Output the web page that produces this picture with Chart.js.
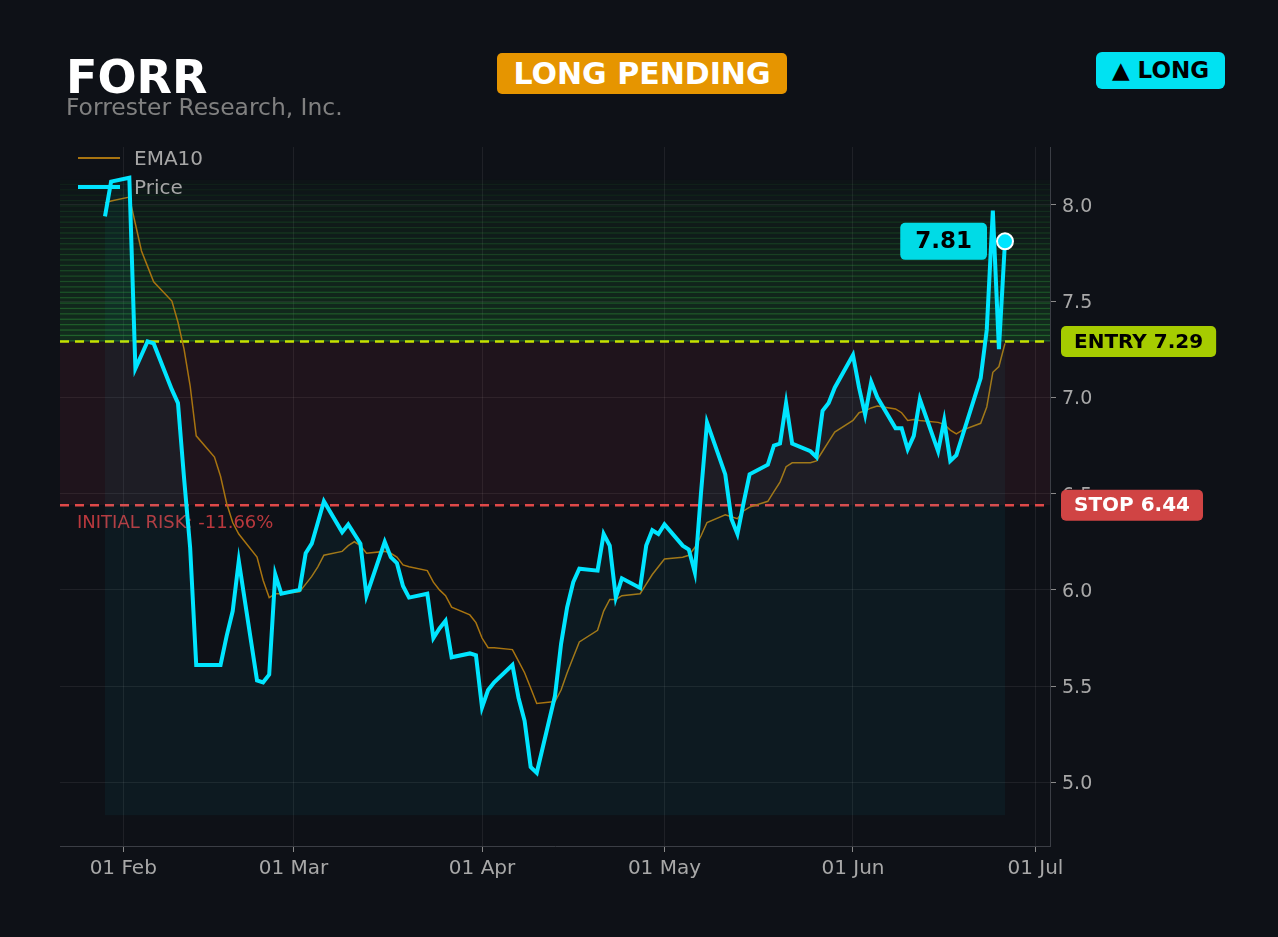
<!DOCTYPE html>
<html>
<head>
<meta charset="utf-8">
<title>FORR</title>
<script src="https://cdn.jsdelivr.net/npm/chart.js@4.4.1/dist/chart.umd.min.js"></script>
<style>
  html, body { margin: 0; padding: 0; background: #0e1117; }
  body { width: 1278px; height: 937px; position: relative; overflow: hidden; font-family: "DejaVu Sans", sans-serif; }
  #chart { position: absolute; left: 0; top: 0; }
  .abs { position: absolute; line-height: 1; white-space: nowrap; }
  #ticker { left: 66px; top: 54px; font-size: 46px; font-weight: bold; color: #ffffff; }
  #company { left: 66px; top: 96px; font-size: 23.4px; color: #808080; }
  .badge { position: absolute; display: flex; align-items: center; justify-content: center; font-weight: bold; border-radius: 5px; line-height: 1; white-space: nowrap; }
  #status { left: 497px; top: 53px; width: 290px; height: 41px; background: #e69500; color: #ffffff; font-size: 30px; }
  #side { left: 1096px; top: 52px; width: 129px; height: 37px; background: #00e2f2; color: #000000; font-size: 23px; border-radius: 6px; }
  .lg { position: absolute; left: 78px; height: 24px; display: flex; align-items: center; font-size: 20px; color: #a6a6a6; }
  .lg span.sw { display: inline-block; width: 42px; margin-right: 14px; }
</style>
</head>
<body>
<canvas id="chart" width="1278" height="937"></canvas>
<div class="abs" id="ticker">FORR</div>
<div class="abs" id="company">Forrester Research, Inc.</div>
<div class="badge" id="status">LONG PENDING</div>
<div class="badge" id="side">▲ LONG</div>
<div class="lg" style="top:146px"><span class="sw" style="height:2px;background:#a87410"></span>EMA10</div>
<div class="lg" style="top:175px"><span class="sw" style="height:4px;background:#00e5ff"></span>Price</div>

<script>
// trading days shown on the chart
const dates = [
  '2026-01-29','2026-01-30',
  '2026-02-02','2026-02-03','2026-02-04','2026-02-05','2026-02-06',
  '2026-02-09','2026-02-10','2026-02-11','2026-02-12','2026-02-13',
  '2026-02-16','2026-02-17','2026-02-18','2026-02-19','2026-02-20',
  '2026-02-23','2026-02-24','2026-02-25','2026-02-26','2026-02-27',
  '2026-03-02','2026-03-03','2026-03-04','2026-03-05','2026-03-06',
  '2026-03-09','2026-03-10','2026-03-11','2026-03-12','2026-03-13',
  '2026-03-16','2026-03-17','2026-03-18','2026-03-19','2026-03-20',
  '2026-03-23','2026-03-24','2026-03-25','2026-03-26','2026-03-27',
  '2026-03-30','2026-03-31',
  '2026-04-01','2026-04-02','2026-04-03',
  '2026-04-06','2026-04-07','2026-04-08','2026-04-09','2026-04-10',
  '2026-04-13','2026-04-14','2026-04-15','2026-04-16','2026-04-17',
  '2026-04-20','2026-04-21','2026-04-22','2026-04-23','2026-04-24',
  '2026-04-27','2026-04-28','2026-04-29','2026-04-30',
  '2026-05-01',
  '2026-05-04','2026-05-05','2026-05-06','2026-05-07','2026-05-08',
  '2026-05-11','2026-05-12','2026-05-13','2026-05-14','2026-05-15',
  '2026-05-18','2026-05-19','2026-05-20','2026-05-21','2026-05-22',
  '2026-05-25','2026-05-26','2026-05-27','2026-05-28','2026-05-29',
  '2026-06-01','2026-06-02','2026-06-03','2026-06-04','2026-06-05',
  '2026-06-08','2026-06-09','2026-06-10','2026-06-11','2026-06-12',
  '2026-06-15','2026-06-16','2026-06-17','2026-06-18','2026-06-19',
  '2026-06-22','2026-06-23','2026-06-24','2026-06-25','2026-06-26'
];

const price = [
  7.94, 8.12,
  8.14, 7.15, 7.22, 7.29, 7.28,
  7.04, 6.97, 6.58, 6.22, 5.61,
  5.61, 5.61, 5.76, 5.89, 6.15,
  5.53, 5.52, 5.56, 6.08, 5.98,
  6.00, 6.19, 6.24, 6.35, 6.46,
  6.30, 6.34, 6.29, 6.24, 5.97,
  6.25, 6.17, 6.14, 6.02, 5.96,
  5.98, 5.75, 5.80, 5.84, 5.65,
  5.67, 5.66,
  5.39, 5.48, 5.52,
  5.61, 5.44, 5.32, 5.08, 5.05,
  5.45, 5.72, 5.91, 6.04, 6.11,
  6.10, 6.29, 6.23, 5.96, 6.06,
  6.01, 6.23, 6.31, 6.29,
  6.34,
  6.23, 6.21, 6.09, 6.50, 6.87,
  6.60, 6.37, 6.29, 6.45, 6.60,
  6.65, 6.75, 6.76, 6.97, 6.76,
  6.72, 6.69, 6.93, 6.97, 7.05,
  7.22, 7.05, 6.91, 7.08, 7.00,
  6.84, 6.84, 6.73, 6.80, 6.99,
  6.72, 6.88, 6.67, 6.70, 6.80,
  7.10, 7.35, 7.97, 7.25, 7.81
];

const ema10 = [
  8.01, 8.02,
  8.04, 7.90, 7.76, 7.68, 7.60,
  7.50, 7.39, 7.25, 7.06, 6.80,
  6.69, 6.59, 6.45, 6.35, 6.29,
  6.17, 6.05, 5.96, 5.98, 5.98,
  5.99, 6.03, 6.07, 6.12, 6.18,
  6.20, 6.23, 6.25, 6.23, 6.19,
  6.20, 6.19, 6.17, 6.13, 6.12,
  6.10, 6.04, 6.00, 5.97, 5.91,
  5.87, 5.83,
  5.75, 5.70, 5.70,
  5.69, 5.63, 5.57, 5.49, 5.41,
  5.42, 5.48, 5.57, 5.65, 5.73,
  5.79, 5.89, 5.95, 5.95, 5.97,
  5.98, 6.03, 6.08, 6.12,
  6.16,
  6.17, 6.18, 6.22, 6.28, 6.35,
  6.39, 6.38, 6.37, 6.41, 6.43,
  6.46, 6.51, 6.56, 6.64, 6.66,
  6.66, 6.67, 6.72, 6.77, 6.82,
  6.88, 6.92, 6.93, 6.945, 6.955,
  6.94, 6.92, 6.88, 6.885, 6.88,
  6.87, 6.86, 6.83, 6.81, 6.83,
  6.865, 6.95, 7.13, 7.16, 7.28
];

const monthStarts = ['2026-02-01','2026-03-01','2026-04-01','2026-05-01','2026-06-01','2026-07-01'];
const monthLabels = ['01 Feb','01 Mar','01 Apr','01 May','01 Jun','01 Jul'];
const yTicks = [5.0, 5.5, 6.0, 6.5, 7.0, 7.5, 8.0];

const entryPrice = 7.29;
const stopPrice = 6.44;
const targetTop = 8.13;
const fillFloor = 4.83;

// days counted from 1 Feb 2026
const dayOf = s => {
  const [y, m, d] = s.split('-').map(Number);
  return (Date.UTC(y, m - 1, d) - Date.UTC(2026, 1, 1)) / 86400000;
};
const xs = dates.map(dayOf);
const monthVals = monthStarts.map(dayOf);

const FONT = '"DejaVu Sans", sans-serif';
const CYAN = '#00e5ff';

function badge(ctx, x, yc, text, font, bg, fg, padX, h, alignRight) {
  ctx.font = font;
  const w = ctx.measureText(text).width + padX * 2;
  const left = alignRight ? x - w : x;
  ctx.fillStyle = bg;
  ctx.beginPath();
  ctx.roundRect(left, yc - h / 2, w, h, 5);
  ctx.fill();
  ctx.fillStyle = fg;
  ctx.textAlign = 'center';
  ctx.textBaseline = 'middle';
  ctx.fillText(text, left + w / 2, yc + 1);
}

const zonesPlugin = {
  id: 'zones',
  beforeDatasetsDraw(chart) {
    const { ctx, chartArea: a, scales: { y } } = chart;
    const yEntry = y.getPixelForValue(entryPrice);
    const yStop = y.getPixelForValue(stopPrice);
    const yTop = y.getPixelForValue(targetTop);
    const w = a.right - a.left;
    ctx.save();
    // risk zone between stop and entry
    ctx.fillStyle = 'rgba(255,70,95,0.075)';
    ctx.fillRect(a.left, yEntry, w, yStop - yEntry);
    // striped target zone above entry
    const n = 30, h = (yEntry - yTop) / n;
    for (let i = 0; i < n; i++) {
      const t = (i + 1) / n;
      const top = yTop + i * h;
      ctx.fillStyle = `rgba(40,170,60,${0.02 + 0.16 * t})`;
      ctx.fillRect(a.left, top, w, h);
      ctx.fillStyle = `rgba(60,200,70,${0.06 + 0.3 * t})`;
      ctx.fillRect(a.left, top + h - 1.3, w, 1.3);
    }
    // entry / stop lines
    ctx.lineWidth = 2.5;
    ctx.setLineDash([9, 6]);
    ctx.strokeStyle = '#c4e000';
    ctx.beginPath(); ctx.moveTo(a.left, yEntry); ctx.lineTo(a.right, yEntry); ctx.stroke();
    ctx.strokeStyle = '#e04848';
    ctx.beginPath(); ctx.moveTo(a.left, yStop); ctx.lineTo(a.right, yStop); ctx.stroke();
    ctx.setLineDash([]);
    // risk text
    const risk = (stopPrice - entryPrice) / entryPrice * 100;
    ctx.font = '18px ' + FONT;
    ctx.fillStyle = 'rgba(215,64,68,0.85)';
    ctx.textAlign = 'left';
    ctx.textBaseline = 'middle';
    ctx.fillText('INITIAL RISK: ' + risk.toFixed(2) + '%', a.left + 17, yStop + 18);
    ctx.restore();
  },
  afterDraw(chart) {
    const { ctx, chartArea: a, scales: { x, y } } = chart;
    ctx.save();
    badge(ctx, a.right + 11, y.getPixelForValue(entryPrice), 'ENTRY ' + entryPrice.toFixed(2),
      'bold 20px ' + FONT, '#a6cc00', '#000000', 13, 31, false);
    badge(ctx, a.right + 11, y.getPixelForValue(stopPrice), 'STOP ' + stopPrice.toFixed(2),
      'bold 20px ' + FONT, '#d04444', '#ffffff', 13, 31, false);
    const last = price.length - 1;
    badge(ctx, x.getPixelForValue(xs[last]) - 18, y.getPixelForValue(price[last]), price[last].toFixed(2),
      'bold 23px ' + FONT, '#00dbe6', '#000000', 15, 37, true);
    ctx.restore();
  }
};

const gridColor = 'rgba(255,255,255,0.07)';

new Chart(document.getElementById('chart'), {
  type: 'line',
  data: {
    datasets: [
      {
        label: 'EMA10',
        data: xs.map((d, i) => ({ x: d, y: ema10[i] })),
        borderColor: '#a87410',
        borderWidth: 1.5,
        pointRadius: 0,
        fill: false,
        order: 1
      },
      {
        label: 'Price',
        data: xs.map((d, i) => ({ x: d, y: price[i] })),
        borderColor: CYAN,
        borderWidth: 4,
        backgroundColor: 'rgba(0,229,255,0.045)',
        fill: { value: fillFloor },
        pointRadius: c => (c.dataIndex === price.length - 1 ? 8 : 0),
        pointBackgroundColor: CYAN,
        pointBorderColor: '#ffffff',
        pointBorderWidth: 2,
        order: 0
      }
    ]
  },
  options: {
    responsive: false,
    animation: false,
    layout: { padding: { left: 60, top: 147, right: 0, bottom: 0 } },
    plugins: { legend: { display: false }, tooltip: { enabled: false } },
    scales: {
      x: {
        type: 'linear',
        min: -10.4,
        max: 152.4,
        afterBuildTicks: s => { s.ticks = monthVals.map(v => ({ value: v })); },
        afterFit: s => { s.height = 91; },
        ticks: {
          callback: (v, i) => monthLabels[i],
          color: '#a8a8a8',
          font: { family: FONT, size: 20 },
          padding: 5,
          maxRotation: 0,
          autoSkip: false
        },
        grid: { color: gridColor, tickColor: '#8a8a8a', tickLength: 6 },
        border: { color: '#3b3e45' }
      },
      y: {
        type: 'linear',
        position: 'right',
        min: 4.67,
        max: 8.30,
        afterBuildTicks: s => { s.ticks = yTicks.map(v => ({ value: v })); },
        afterFit: s => { s.width = 228; },
        ticks: {
          callback: v => Number(v).toFixed(1),
          color: '#a8a8a8',
          font: { family: FONT, size: 19 },
          padding: 6,
          labelOffset: 2
        },
        grid: { color: gridColor, tickColor: '#8a8a8a', tickLength: 6 },
        border: { color: '#3b3e45' }
      }
    }
  },
  plugins: [zonesPlugin]
});
</script>
</body>
</html>
